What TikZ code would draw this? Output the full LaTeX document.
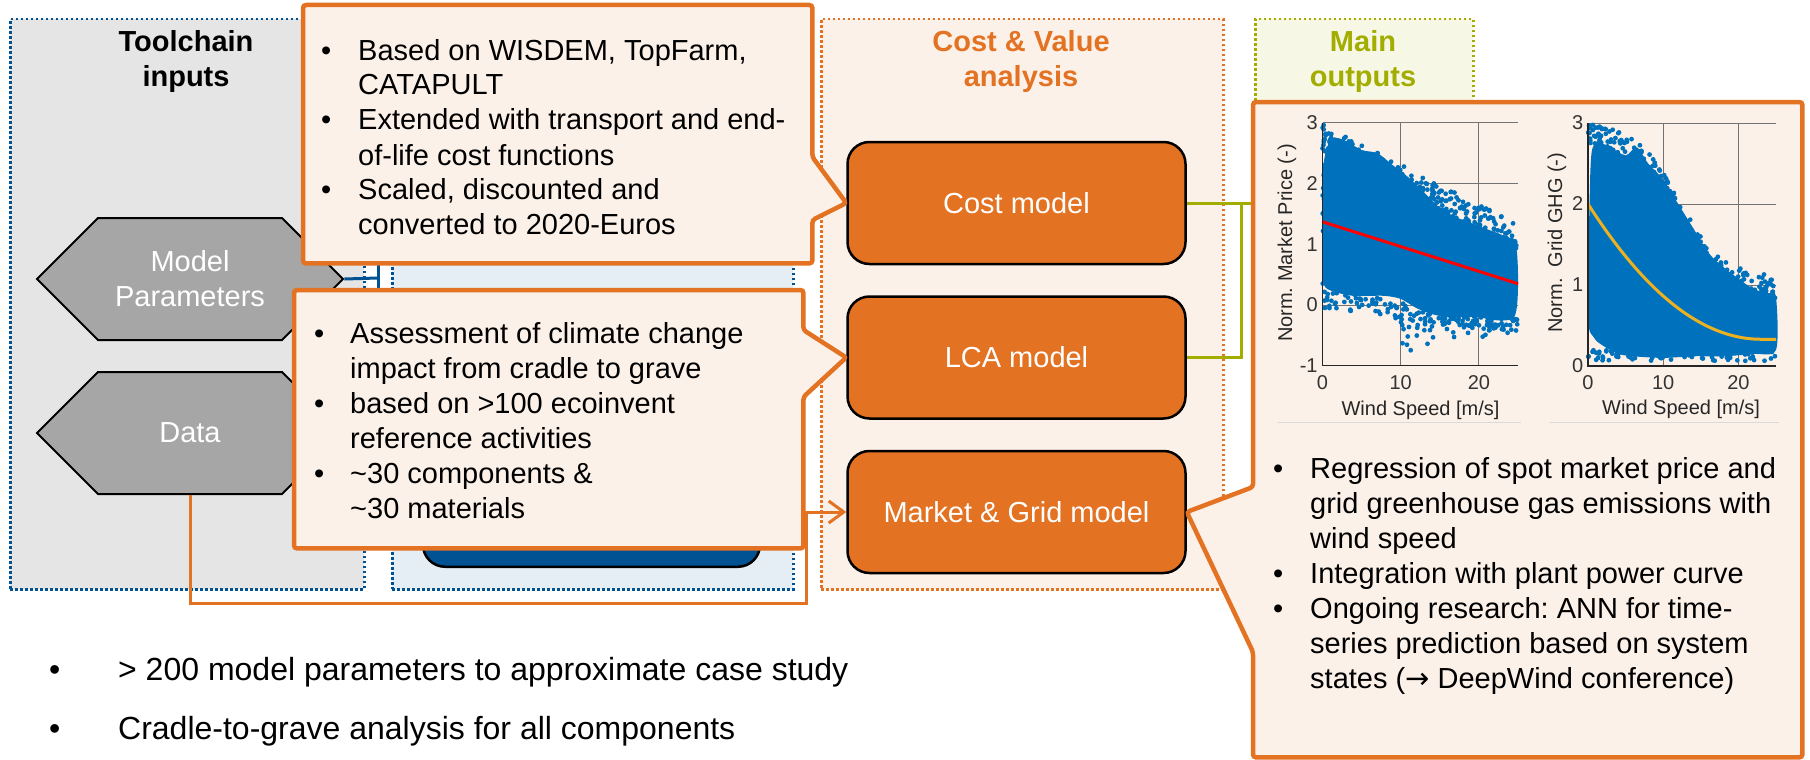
\documentclass[tikz,border=0pt]{standalone}
\usepackage{fontspec}
\setmainfont{Liberation Sans}
\newfontfamily\arrowfont{DejaVu Sans}
\usetikzlibrary{shapes.symbols,arrows.meta,positioning,calc}
\definecolor{tumorange}{HTML}{E37222}
\definecolor{tumgreen}{HTML}{A2AD00}
\definecolor{tumblue}{HTML}{005293}
\definecolor{mlblue}{HTML}{0072BD}
\definecolor{mlyellow}{HTML}{EDB120}
\newcommand{\fsize}[2]{\fontsize{#1}{#2}\selectfont}
\frenchspacing

\begin{document}
\begin{tikzpicture}[x=1pt,y=-1pt,font=\fsize{29}{35},>=Latex,node distance=30pt]
  \tikzstyle{panel}=[line width=2.5pt,dash pattern=on 2.5pt off 2.5pt,anchor=north west,inner sep=0pt]
  \tikzstyle{paneltitle}=[font=\fsize{29}{35}\bfseries,align=center]
  \tikzstyle{hexa}=[signal,signal to=west and east,signal pointer angle=90,draw=black,line width=2pt,fill=black!35,text=white,align=center,minimum width=306pt,minimum height=122pt,inner sep=0pt]
  \tikzstyle{model}=[draw=black,line width=2.5pt,fill=tumorange,rounded corners=22pt,minimum width=338pt,minimum height=122pt,text=white]
  \tikzstyle{notebox}=[draw=tumorange,line width=4.5pt,fill=tumorange!10,rounded corners=3pt]
  \tikzstyle{body}=[anchor=north west,inner sep=0pt]
  \tikzstyle{bullets}=[anchor=base west,inner sep=0pt,align=left]
  \tikzstyle{link}=[tumgreen,line width=3pt]
  \tikzstyle{feed}=[tumorange,line width=3pt]
  \tikzstyle{gridln}=[black!55,line width=0.9pt]
  \tikzstyle{axline}=[black!85,line width=1.3pt]
  \tikzstyle{ticklab}=[font=\fsize{20}{23},text=black!80,inner sep=0pt]
  \tikzstyle{axlabel}=[font=\fsize{20}{24},text=black!85,inner sep=0pt]
  \tikzstyle{scat}=[fill=mlblue]

  \useasboundingbox (0,0) rectangle (1810,760);

  % panels
  \node[panel,draw=tumblue,fill=black!10,minimum width=354pt,minimum height=570pt] (inputs) at (9,18) {};
  \node[panel,draw=tumblue,fill=tumblue!10,minimum width=401pt,minimum height=570pt] (tools) at (391,18) {};
  \node[panel,draw=tumorange,fill=tumorange!10,minimum width=402pt,minimum height=570pt] (analysis) at (820,18) {};
  \node[panel,draw=tumgreen,fill=tumgreen!10,minimum width=218pt,minimum height=200pt] (outputs) at (1254,18) {};
  \node[paneltitle] (inputs-t) at (186,62) {Toolchain\\inputs};
  \node[paneltitle,text=tumorange] (analysis-t) at (1021,62) {Cost \& Value\\analysis};
  \node[paneltitle,text=tumgreen] (outputs-t) at (1363,62) {Main\\outputs};

  % inputs
  \node[hexa] (params) at (190,279) {Model\\Parameters};
  \node[hexa,below=of params] (data) {Data};
  \coordinate (brk) at (378,278);
  \draw[tumblue,line width=3pt] (params.east) -- (brk);
  \draw[tumblue,line width=3pt] ($(brk)+(0,-35)$) -- ($(brk)+(0,35)$);

  % tool box, mostly hidden by the notes
  \node[draw=black,line width=2.5pt,fill=tumblue,rounded corners=22pt,minimum width=337pt,minimum height=120pt,anchor=south] (tool) at (591.5,568) {};

  % models
  \node[model] (cost) at (1016.5,203) {Cost model};
  \node[model,below=of cost] (lca) {LCA model};
  \node[model,below=of lca] (market) {Market \& Grid model};

  % data feed into the market model
  \coordinate (feedR) at (806,603);
  \draw[feed,-{Straight Barb[length=15pt,width=22pt]}] (data.south) |- (feedR) |- (market.west);

  % cost and LCA results to the outputs
  \coordinate (join) at (1241,203);
  \coordinate (gend) at (1253,203);
  \draw[link] (cost.east) -- (gend);
  \draw[link] (lca.east) -| (join);

  % cost note
  \node[body,minimum width=509pt,minimum height=258pt] (costnote) at (303,5) {};
  \draw[notebox] (costnote.north west) -- (costnote.north east) -- (costnote.east |- 0,157) -- (cost.west)
    -- (costnote.east |- 0,220) -- (costnote.south east) -- (costnote.south west) -- cycle;
  \node[bullets] (costtext) at (321,60) {\begin{tabular}[t]{@{}p{37pt}@{}l@{}}
    \textbullet & Based on WISDEM, TopFarm,\\
     & CATAPULT\\
    \textbullet & Extended with transport and end-\\
     & of-life cost functions\\
    \textbullet & Scaled, discounted and\\
     & converted to 2020-Euros
  \end{tabular}};

  % LCA note
  \node[body,minimum width=509pt,minimum height=258pt] (lcanote) at (294,290) {};
  \draw[notebox] (lcanote.north west) -- (lcanote.north east) -- (lcanote.east |- 0,330) -- (lca.west)
    -- (lcanote.east |- 0,397) -- (lcanote.south east) -- (lcanote.south west) -- cycle;
  \node[bullets] (lcatext) at (314,343) {\begin{tabular}[t]{@{}p{36pt}@{}l@{}}
    \textbullet & Assessment of climate change\\
     & impact from cradle to grave\\
    \textbullet & based on >100 ecoinvent\\
     & reference activities\\
    \textbullet & \textasciitilde 30 components \&\\
     & \textasciitilde 30 materials
  \end{tabular}};

  % outputs note
  \node[body,minimum width=549pt,minimum height=655pt] (outnote) at (1253,102) {};
  \draw[notebox] (outnote.north west) -- (outnote.north east) -- (outnote.south east) -- (outnote.south west)
    -- (outnote.west |- 0,652) -- (market.east) -- (outnote.west |- 0,487) -- cycle;
  \node[bullets] (outtext) at (1273,478) {\begin{tabular}[t]{@{}p{37pt}@{}l@{}}
    \textbullet & Regression of spot market price and\\
     & grid greenhouse gas emissions with\\
     & wind speed\\
    \textbullet & Integration with plant power curve\\
    \textbullet & Ongoing research: ANN for time-\\
     & series prediction based on system\\
     & states ({\arrowfont →} DeepWind conference)
  \end{tabular}};
  \draw[black!15,line width=1pt] (1278,422) -- (1521,422);
  \draw[black!15,line width=1pt] (1550,422) -- (1779,422);

  % market price chart
  \begin{scope}[shift={(1322.5,305)},x=7.82pt,y=60.75pt]
    \foreach \g in {-1,...,3} \draw[gridln] (0,\g) -- (25,\g);
    \foreach \g in {10,20} \draw[gridln] (\g,-1) -- (\g,3);
    \begin{scope}
      \clip (-0.3,-1.05) rectangle (25.3,3.05);
      \fill[scat] plot[smooth cycle,tension=0.5] coordinates {(0,2.1) (0.6,2.6) (1.5,2.75) (3,2.7) (5,2.55) (7,2.5)
        (9,2.3) (11,2.1) (13,1.85) (15,1.6) (17,1.45) (19,1.35) (21,1.25) (23,1.15) (24.7,1.0) (25,0.3)
        (24.5,-0.2) (22,-0.25) (20,-0.2) (18,-0.2) (16,-0.2) (14,-0.15) (12,-0.05) (10,0.1) (8,0.15)
        (6,0.15) (4,0.15) (2,0.2) (0.3,0.3) (0,0.6)};
      \pgfmathsetseed{11}
      \foreach \i in {1,...,260}{
        \pgfmathsetmacro\w{25*rnd}
        \pgfmathsetmacro\p{2.72-0.066*\w+0.42*(rnd-0.4)}
        \fill[scat] (\w,\p) circle[radius=2.4pt];
      }
      \foreach \i in {1,...,120}{
        \pgfmathsetmacro\w{25*rnd}
        \pgfmathsetmacro\p{0.25-0.018*\w-0.3*rnd}
        \fill[scat] (\w,\p) circle[radius=2.4pt];
      }
      \foreach \i in {1,...,70}{
        \pgfmathsetmacro\w{10+15*rnd}
        \pgfmathsetmacro\p{-0.2-0.65*rnd*rnd}
        \fill[scat] (\w,\p) circle[radius=2.4pt];
      }
      \foreach \i in {1,...,40}{
        \pgfmathsetmacro\w{0.8*rnd}
        \pgfmathsetmacro\p{0.3+2.6*rnd}
        \fill[scat] (\w,\p) circle[radius=2.4pt];
      }
    \end{scope}
    \draw[red,line width=3pt] (0,1.37) -- (25,0.35);
    \draw[axline] (0,3) -- (0,-1) -- (25,-1);
    \foreach \t in {-1,...,3} \node[ticklab,anchor=east] (py\t) at (-0.6,\t) {\t};
    \foreach \t in {0,10,20} \node[ticklab,anchor=north] (px\t) at (\t,-1.15) {\t};
    \node[axlabel,rotate=90] (pylab) at (-4.54,1.02) {Norm. Market Price (-)};
    \node[axlabel] (pxlab) at (12.53,-1.73) {Wind Speed [m/s]};
  \end{scope}

  % grid emissions chart
  \begin{scope}[shift={(1588,366)},x=7.52pt,y=81pt]
    \foreach \g in {0,...,3} \draw[gridln] (0,\g) -- (25,\g);
    \foreach \g in {10,20} \draw[gridln] (\g,0) -- (\g,3);
    \begin{scope}
      \clip (-0.3,-0.05) rectangle (25.3,3.05);
      \fill[scat] plot[smooth cycle,tension=0.5] coordinates {(0,0.6) (0.2,2.0) (0.5,2.65) (1.5,2.75) (3,2.7)
        (5,2.6) (6.5,2.7) (8,2.5) (10,2.3) (12,2.0) (14,1.7) (16,1.4) (18,1.22) (20,1.08) (22,0.95)
        (24,0.9) (25,0.85) (25,0.2) (22,0.15) (18,0.12) (14,0.12) (10,0.1) (6,0.12) (4,0.15) (2,0.25) (0.8,0.35)};
      \pgfmathsetseed{23}
      \foreach \i in {1,...,260}{
        \pgfmathsetmacro\w{25*rnd}
        \pgfmathsetmacro\p{0.85+1.95/(1+exp((\w-12)/3))+0.4*(rnd-0.4)}
        \fill[scat] (\w,\p) circle[radius=2.4pt];
      }
      \foreach \i in {1,...,80}{
        \pgfmathsetmacro\w{25*rnd}
        \pgfmathsetmacro\p{0.06+0.14*rnd}
        \fill[scat] (\w,\p) circle[radius=2.4pt];
      }
    \end{scope}
    \draw[mlyellow,line width=3pt] plot[domain=0:23,samples=40] (\x,{0.33+0.003157*(\x-23)^2}) -- (25,0.33);
    \draw[axline] (0,3) -- (0,0) -- (25,0);
    \foreach \t in {0,...,3} \node[ticklab,anchor=east] (gy\t) at (-0.6,\t) {\t};
    \foreach \t in {0,10,20} \node[ticklab,anchor=north] (gx\t) at (\t,-0.11) {\t};
    \node[axlabel,rotate=90] (gylab) at (-4.12,1.52) {Norm.\ \ Grid GHG (-)};
    \node[axlabel] (gxlab) at (12.37,-0.54) {Wind Speed [m/s]};
  \end{scope}

  % key facts
  \node[bullets,font=\fsize{32}{38}] (fact1) at (49,680) {\makebox[69pt][l]{\textbullet}> 200 model parameters to approximate case study};
  \node[bullets,font=\fsize{32}{38}] (fact2) at (49,739) {\makebox[69pt][l]{\textbullet}Cradle-to-grave analysis for all components};
\end{tikzpicture}
\end{document}
